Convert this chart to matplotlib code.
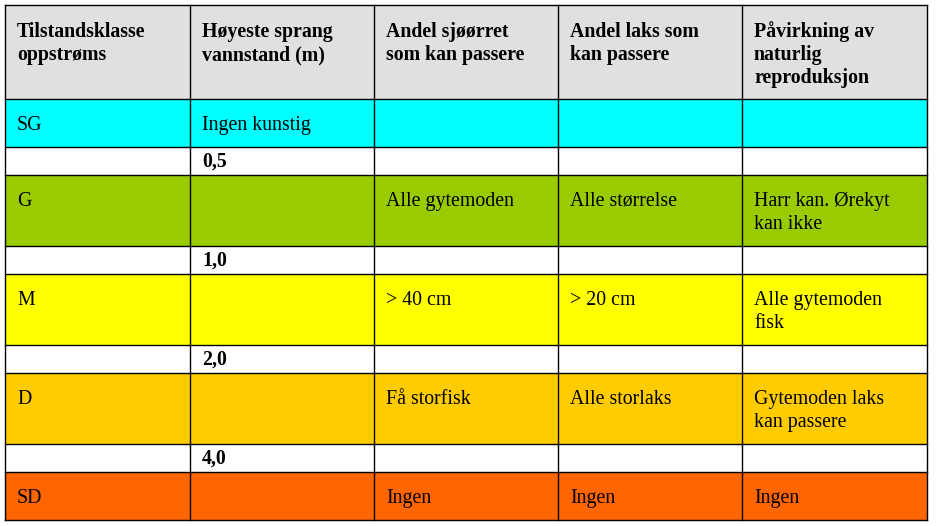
import matplotlib.pyplot as plt
from matplotlib.patches import Rectangle

plt.rcParams['font.family'] = ['Liberation Serif', 'DejaVu Serif']

headers = [["Tilstandsklasse", "oppstrøms"],
           ["Høyeste sprang", "vannstand (m)"],
           ["Andel sjøørret", "som kan passere"],
           ["Andel laks som", "kan passere"],
           ["Påvirkning av", "naturlig", "reproduksjon"]]
classes = ["SG", "G", "M", "D", "SD"]
class_colors = ["#00FFFF", "#99CC00", "#FFFF00", "#FFCC00", "#FF6600"]
thresholds = ["0,5", "1,0", "2,0", "4,0"]
sprang = ["Ingen kunstig", "", "", "", ""]
sjoorret = ["", "Alle gytemoden", "> 40 cm", "Få storfisk", "Ingen"]
laks = ["", "Alle størrelse", "> 20 cm", "Alle storlaks", "Ingen"]
paavirkning = ["", "Harr kan. Ørekyt\nkan ikke", "Alle gytemoden\nfisk",
               "Gytemoden laks\nkan passere", "Ingen"]

col_x = [5, 190, 374, 558, 742, 927]
row_y = [5, 99, 147, 175, 246, 274, 345, 373, 444, 472, 520]
header_color = "#E0E0E0"
fs = 14.3
line_h = 23

fig = plt.figure(figsize=(9.36, 5.26), dpi=100)
ax = fig.add_axes([0, 0, 1, 1])
ax.set_xlim(0, 936)
ax.set_ylim(526, 0)
ax.axis('off')


def put(col, top, text, offset, bold=False):
    lines = text if isinstance(text, list) else text.split("\n")
    for k, ln in enumerate(lines):
        if ln:
            ax.text(col_x[col] + 12, top + offset + k * line_h, ln, fontsize=fs,
                    fontweight='bold' if bold else 'normal', va='baseline', ha='left')


# header row
ax.add_patch(Rectangle((col_x[0], row_y[0]), col_x[-1] - col_x[0], row_y[1] - row_y[0],
                       facecolor=header_color, edgecolor='none'))
for c, h in enumerate(headers):
    put(c, row_y[0], h, 32, bold=True)

# class rows and threshold rows
for i, cls in enumerate(classes):
    top = row_y[1 + 2 * i]
    bot = row_y[2 + 2 * i]
    ax.add_patch(Rectangle((col_x[0], top), col_x[-1] - col_x[0], bot - top,
                           facecolor=class_colors[i], edgecolor='none'))
    cells = [cls, sprang[i], sjoorret[i], laks[i], paavirkning[i]]
    for c, txt in enumerate(cells):
        put(c, top, txt, 31)
    if i < len(thresholds):
        put(1, bot, thresholds[i], 20, bold=True)

# grid lines
for x in col_x:
    ax.plot([x, x], [row_y[0], row_y[-1]], color='black', lw=1.0, solid_capstyle='projecting')
for y in row_y:
    ax.plot([col_x[0], col_x[-1]], [y, y], color='black', lw=1.0, solid_capstyle='projecting')

fig.savefig("out.png", dpi=100, facecolor='white')
